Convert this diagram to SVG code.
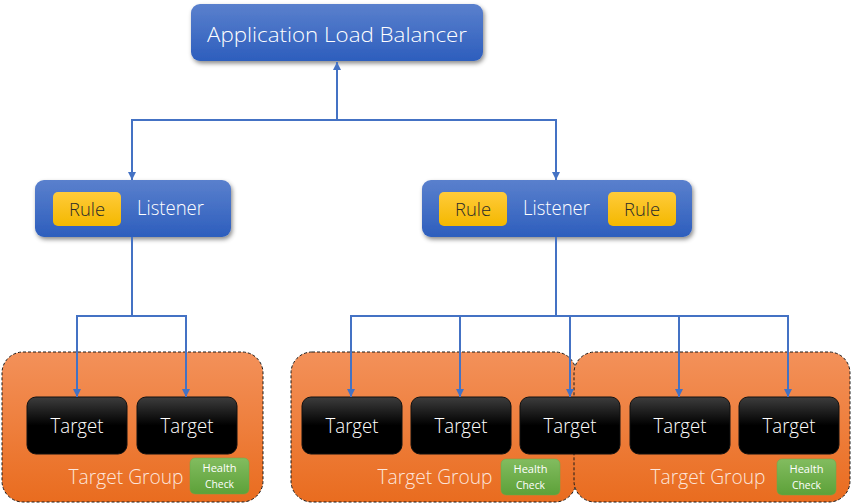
<svg xmlns="http://www.w3.org/2000/svg" width="851" height="503" viewBox="0 0 851 503">
<defs>
  <linearGradient id="gBlue" x1="0" y1="0" x2="0" y2="1">
    <stop offset="0" stop-color="#5a80cd"/>
    <stop offset="1" stop-color="#2d5ebd"/>
  </linearGradient>
  <linearGradient id="gRule" x1="0" y1="0" x2="0" y2="1">
    <stop offset="0" stop-color="#ffcb3a"/>
    <stop offset="1" stop-color="#f4b800"/>
  </linearGradient>
  <linearGradient id="gOrange" x1="0" y1="0" x2="0" y2="1">
    <stop offset="0" stop-color="#f3915a"/>
    <stop offset="1" stop-color="#e96c1f"/>
  </linearGradient>
  <linearGradient id="gTarget" x1="0" y1="0" x2="0" y2="1">
    <stop offset="0" stop-color="#3d3d3d"/>
    <stop offset="0.5" stop-color="#000000"/>
    <stop offset="1" stop-color="#000000"/>
  </linearGradient>
  <linearGradient id="gGreen" x1="0" y1="0" x2="0" y2="1">
    <stop offset="0" stop-color="#82bc5f"/>
    <stop offset="1" stop-color="#5da139"/>
  </linearGradient>
  <filter id="shadow" x="-10%" y="-20%" width="120%" height="150%">
    <feDropShadow dx="1.5" dy="2.5" stdDeviation="2" flood-color="#000" flood-opacity="0.45"/>
  </filter>
  <marker id="arrow" viewBox="0 0 10 10" refX="10" refY="5" markerWidth="9" markerHeight="8" markerUnits="userSpaceOnUse" orient="auto">
    <path d="M0,0 L10,5 L0,10 z" fill="#4472c4"/>
  </marker>
</defs>
<style>
  text { font-family: "Open Sans", "Noto Sans", "DejaVu Sans", sans-serif; font-weight: 300; }
  .blue { fill: url(#gBlue); filter: url(#shadow); }
  .rule { fill: url(#gRule); }
  .tg { fill: url(#gOrange); stroke: #1a1a1a; stroke-width: 1; stroke-dasharray: 3 2; }
  .target { fill: url(#gTarget); stroke: #111; stroke-width: 1; }
  .hc { fill: url(#gGreen); stroke: #6aa94a; stroke-width: 0.5; }
  .wt { fill: #ffffff; text-anchor: middle; }
  .rt { fill: #2a2a2a; text-anchor: middle; font-size: 19px; }
  .tgt { fill: #fde6dc; text-anchor: middle; font-size: 20px; }
  .ht { fill: #ffffff; text-anchor: middle; font-size: 11px; font-weight: 400; }
  .conn { fill: none; stroke: #4472c4; stroke-width: 2; }
</style>

<g id="tg-left">
  <rect class="tg" x="2" y="352" width="261" height="150" rx="21"/>
  <text class="tgt" x="126" y="484" textLength="115" lengthAdjust="spacingAndGlyphs">Target Group</text>
  <g id="hc-left">
    <rect class="hc" x="190" y="458" width="59" height="36" rx="5"/>
    <text class="ht" x="219.5" y="472" textLength="34" lengthAdjust="spacingAndGlyphs">Health</text>
    <text class="ht" x="219.5" y="488" textLength="29" lengthAdjust="spacingAndGlyphs">Check</text>
  </g>
</g>
<g id="tg-middle">
  <rect class="tg" x="291" y="352" width="285" height="150" rx="21"/>
  <text class="tgt" x="435" y="484" textLength="115" lengthAdjust="spacingAndGlyphs">Target Group</text>
  <g id="hc-middle">
    <rect class="hc" x="501" y="459" width="59" height="36" rx="5"/>
    <text class="ht" x="530.5" y="473" textLength="34" lengthAdjust="spacingAndGlyphs">Health</text>
    <text class="ht" x="530.5" y="489" textLength="29" lengthAdjust="spacingAndGlyphs">Check</text>
  </g>
</g>
<g id="tg-right">
  <rect class="tg" x="574" y="352" width="276" height="150" rx="21"/>
  <text class="tgt" x="708" y="484" textLength="115" lengthAdjust="spacingAndGlyphs">Target Group</text>
  <g id="hc-right">
    <rect class="hc" x="777" y="459" width="59" height="36" rx="5"/>
    <text class="ht" x="806.5" y="473" textLength="34" lengthAdjust="spacingAndGlyphs">Health</text>
    <text class="ht" x="806.5" y="489" textLength="29" lengthAdjust="spacingAndGlyphs">Check</text>
  </g>
</g>

<g id="target-1"><rect class="target" x="27" y="397" width="100" height="57" rx="9"/><text class="wt" x="77" y="433" font-size="20" textLength="53" lengthAdjust="spacingAndGlyphs">Target</text></g>
<g id="target-2"><rect class="target" x="137" y="397" width="100" height="57" rx="9"/><text class="wt" x="187" y="433" font-size="20" textLength="53" lengthAdjust="spacingAndGlyphs">Target</text></g>
<g id="target-3"><rect class="target" x="302" y="397" width="100" height="57" rx="9"/><text class="wt" x="352" y="433" font-size="20" textLength="53" lengthAdjust="spacingAndGlyphs">Target</text></g>
<g id="target-4"><rect class="target" x="411" y="397" width="100" height="57" rx="9"/><text class="wt" x="461" y="433" font-size="20" textLength="53" lengthAdjust="spacingAndGlyphs">Target</text></g>
<g id="target-5"><rect class="target" x="520" y="397" width="100" height="57" rx="9"/><text class="wt" x="570" y="433" font-size="20" textLength="53" lengthAdjust="spacingAndGlyphs">Target</text></g>
<g id="target-6"><rect class="target" x="630" y="397" width="100" height="57" rx="9"/><text class="wt" x="680" y="433" font-size="20" textLength="53" lengthAdjust="spacingAndGlyphs">Target</text></g>
<g id="target-7"><rect class="target" x="739" y="397" width="100" height="57" rx="9"/><text class="wt" x="789" y="433" font-size="20" textLength="53" lengthAdjust="spacingAndGlyphs">Target</text></g>

<g id="alb">
  <rect class="blue" x="191" y="4" width="292" height="57" rx="9"/>
  <text class="wt" x="337" y="42" font-size="21" textLength="260" lengthAdjust="spacingAndGlyphs">Application Load Balancer</text>
</g>

<g id="listener-left">
  <rect class="blue" x="35" y="180" width="196" height="57" rx="9"/>
  <rect class="rule" x="53" y="192" width="68" height="34" rx="5"/>
  <text class="rt" x="87" y="216" textLength="36" lengthAdjust="spacingAndGlyphs">Rule</text>
  <text class="wt" x="170.5" y="215" font-size="20" textLength="67" lengthAdjust="spacingAndGlyphs">Listener</text>
</g>

<g id="listener-right">
  <rect class="blue" x="422" y="180" width="270" height="57" rx="9"/>
  <rect class="rule" x="439" y="192" width="68" height="34" rx="5"/>
  <text class="rt" x="473" y="216" textLength="36" lengthAdjust="spacingAndGlyphs">Rule</text>
  <rect class="rule" x="608" y="192" width="68" height="34" rx="5"/>
  <text class="rt" x="642" y="216" textLength="36" lengthAdjust="spacingAndGlyphs">Rule</text>
  <text class="wt" x="556.5" y="215" font-size="20" textLength="67" lengthAdjust="spacingAndGlyphs">Listener</text>
</g>

<g id="connectors">
  <path class="conn" d="M337,120 V62" marker-end="url(#arrow)"/>
  <path class="conn" d="M337,120 H132 V180" marker-end="url(#arrow)"/>
  <path class="conn" d="M337,120 H556 V180" marker-end="url(#arrow)"/>
  <path class="conn" d="M132,237 V316 H77 V397" marker-end="url(#arrow)"/>
  <path class="conn" d="M132,316 H186 V397" marker-end="url(#arrow)"/>
  <path class="conn" d="M556,237 V316 H351 V397" marker-end="url(#arrow)"/>
  <path class="conn" d="M556,316 H460 V397" marker-end="url(#arrow)"/>
  <path class="conn" d="M556,316 H570 V397" marker-end="url(#arrow)"/>
  <path class="conn" d="M556,316 H679 V397" marker-end="url(#arrow)"/>
  <path class="conn" d="M556,316 H788 V397" marker-end="url(#arrow)"/>
</g>
</svg>
